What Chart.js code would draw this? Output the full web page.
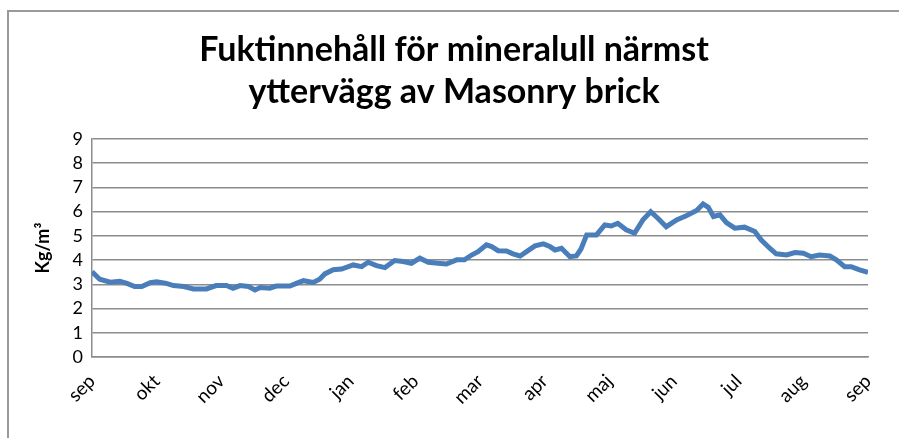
<!DOCTYPE html>
<html>
<head>
<meta charset="utf-8">
<script src="https://cdn.jsdelivr.net/npm/chart.js@4/dist/chart.umd.min.js"></script>
<style>
  html, body { margin: 0; padding: 0; background: #fff; }
  #wrap { width: 899px; height: 438px; }
</style>
</head>
<body>
<div id="wrap"><canvas id="chart" width="899" height="438"></canvas></div>
<script>
// Month tick labels, Sep -> Sep
const monthLabels = ['sep', 'okt', 'nov', 'dec', 'jan', 'feb', 'mar', 'apr', 'maj', 'jun', 'jul', 'aug', 'sep'];

// Position of each reading, in months from the start of September
const monthPos = [
	0.0, 0.12, 0.28, 0.43, 0.54, 0.66, 0.77, 0.9, 1.0, 1.15, 1.26, 1.42, 1.57, 1.77, 1.92,
	2.08, 2.18, 2.29, 2.42, 2.52, 2.6, 2.75, 2.85, 3.06, 3.16, 3.27, 3.42, 3.52, 3.6, 3.73,
	3.86, 4.04, 4.17, 4.27, 4.4, 4.53, 4.68, 4.81, 4.94, 5.07, 5.2, 5.35, 5.48, 5.64, 5.76,
	5.87, 5.97, 6.1, 6.18, 6.28, 6.41, 6.51, 6.62, 6.72, 6.85, 6.98, 7.08, 7.16, 7.26, 7.39,
	7.49, 7.56, 7.65, 7.8, 7.93, 8.03, 8.13, 8.26, 8.39, 8.52, 8.64, 8.75, 8.88, 9.04, 9.19,
	9.35, 9.45, 9.53, 9.61, 9.71, 9.81, 9.94, 10.09, 10.25, 10.35, 10.48, 10.58, 10.74, 10.87, 11.0,
	11.12, 11.25, 11.41, 11.51, 11.64, 11.74, 11.87, 12.0
];

// Moisture content, kg/m3
const moisture = [
	3.52, 3.21, 3.09, 3.13, 3.04, 2.91, 2.91, 3.07, 3.11, 3.04, 2.95, 2.91, 2.81, 2.81, 2.95,
	2.95, 2.84, 2.95, 2.91, 2.77, 2.87, 2.84, 2.93, 2.93, 3.04, 3.15, 3.08, 3.21, 3.43, 3.6,
	3.63, 3.8, 3.73, 3.91, 3.77, 3.69, 3.98, 3.94, 3.87, 4.08, 3.91, 3.87, 3.84, 4.01, 4.01,
	4.21, 4.35, 4.63, 4.56, 4.39, 4.38, 4.26, 4.17, 4.35, 4.59, 4.67, 4.56, 4.42, 4.49, 4.14,
	4.17, 4.45, 5.04, 5.04, 5.45, 5.41, 5.52, 5.25, 5.11, 5.66, 6.0, 5.73, 5.38, 5.66, 5.83,
	6.05, 6.32, 6.18, 5.8, 5.87, 5.55, 5.32, 5.36, 5.18, 4.83, 4.49, 4.26, 4.21, 4.31, 4.28,
	4.14, 4.21, 4.17, 4.01, 3.73, 3.73, 3.6, 3.49
];

const yTicks = [0, 1, 2, 3, 4, 5, 6, 7, 8, 9];

const titleLines = ['Fuktinnehåll för mineralull närmst', 'yttervägg av Masonry brick'];

const points = monthPos.map((m, i) => ({ x: m, y: moisture[i] }));

// grey frame lines like the original sheet border, plus the two-line title
const framePlugin = {
	id: 'frame',
	afterDraw(chart) {
		const ctx = chart.ctx;
		ctx.save();
		ctx.strokeStyle = '#9a9a9a';
		ctx.lineWidth = 2;
		ctx.beginPath();
		ctx.moveTo(8, 438);
		ctx.lineTo(8, 11);
		ctx.lineTo(899, 11);
		ctx.stroke();

		ctx.fillStyle = '#000';
		ctx.font = 'bold 34px Lato';
		ctx.textAlign = 'center';
		ctx.textBaseline = 'middle';
		titleLines.forEach((t, i) => ctx.fillText(t, 454, 50 + i * 42));
		ctx.restore();
	}
};

new Chart(document.getElementById('chart'), {
	type: 'line',
	data: {
		datasets: [
			{
				label: 'Kg/m³',
				data: points,
				borderColor: '#4a7ebb',
				borderWidth: 5,
				pointRadius: 0,
				tension: 0,
				fill: false
			}
		]
	},
	options: {
		responsive: false,
		animation: false,
		layout: { padding: { left: 0, right: 31, top: 139, bottom: 0 } },
		plugins: {
			legend: { display: false },
			tooltip: { enabled: false },
			title: { display: false }
		},
		scales: {
			x: {
				type: 'linear',
				min: 0,
				max: 12,
				afterBuildTicks: s => {
					s.ticks = monthLabels.map((_, i) => ({ value: i }));
				},
				afterFit: s => {
					s.height = 81;
				},
				ticks: {
					autoSkip: false,
					maxRotation: 45,
					minRotation: 45,
					padding: 13,
					color: '#000',
					font: { family: 'Lato', size: 19 },
					callback: v => monthLabels[v]
				},
				grid: { display: false, drawTicks: false },
				border: { display: true, color: '#8c8c8c', width: 1.5 }
			},
			y: {
				min: 0,
				max: 9,
				afterBuildTicks: s => {
					s.ticks = yTicks.map(v => ({ value: v }));
				},
				afterFit: s => {
					s.width = 92;
				},
				ticks: {
					autoSkip: false,
					padding: 9,
					color: '#000',
					font: { family: 'Lato', size: 18 }
				},
				grid: { color: '#8c8c8c', lineWidth: 1.5, drawTicks: false },
				border: { display: true, color: '#8c8c8c', width: 1.5 },
				title: {
					display: true,
					text: 'Kg/m³',
					color: '#000',
					font: { family: 'Lato', size: 18, weight: 'bold' },
					padding: { top: 32, bottom: 0 }
				}
			}
		}
	},
	plugins: [framePlugin]
});
</script>
</body>
</html>
